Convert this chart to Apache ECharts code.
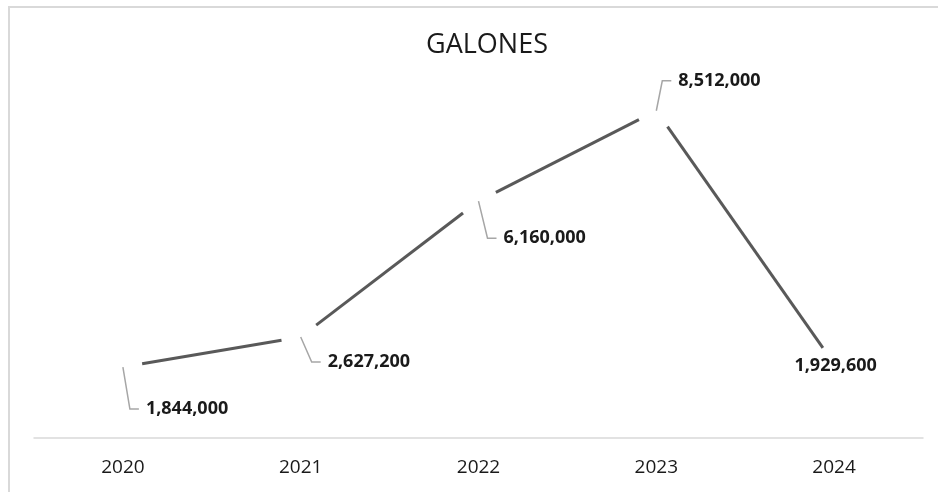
<!DOCTYPE html>
<html>
<head>
<meta charset="utf-8">
<script src="https://cdn.jsdelivr.net/npm/echarts@6/dist/echarts.min.js"></script>
<style>
html,body{margin:0;padding:0;background:#fff;}
#chart{width:938px;height:492px;}
</style>
</head>
<body>
<div id="chart"></div>
<script>
var titleText = 'GALONES';
var categories = ['2020', '2021', '2022', '2023', '2024'];
var values = [1844000, 2627200, 6160000, 8512000, 1929600];

// label layout (pixel offsets relative to each point): [x, y, align, showLeader]
var labelLayouts = [
  [23, 42, 'left', true],
  [27, 25, 'left', true],
  [25, 37, 'left', true],
  [22, -30, 'left', true],
  [1.5, 2.5, 'center', false]
];
var GAP = 19.5;

var chart = echarts.init(document.getElementById('chart'), null, {renderer: 'canvas'});

function fmt(v) { return v.toLocaleString('en-US'); }

var option = {
  animation: false,
  backgroundColor: '#ffffff',
  title: {
    text: titleText,
    left: 482,
    textAlign: 'center',
    top: 27,
    textStyle: {fontFamily: 'Open Sans', fontSize: 27, fontWeight: 'normal', color: '#1a1a1a'}
  },
  graphic: [{
    type: 'rect',
    silent: true,
    shape: {x: 9, y: 7, width: 2000, height: 2000},
    style: {fill: 'none', stroke: '#d9d9d9', lineWidth: 2},
    z: 0
  }],
  grid: {left: 34, right: 15, top: 92, bottom: 54},
  xAxis: {
    type: 'category',
    data: categories,
    boundaryGap: true,
    axisLine: {show: true, lineStyle: {color: '#d9d9d9', width: 1.5}},
    axisTick: {show: false},
    axisLabel: {fontFamily: 'Open Sans', fontSize: 19, color: '#1a1a1a', margin: 20},
    splitLine: {show: false}
  },
  yAxis: {
    type: 'value',
    min: 0,
    max: 9000000,
    show: false,
    splitLine: {show: false}
  },
  series: [{
    type: 'custom',
    data: values.map(function (v, i) { return [i, v]; }),
    encode: {x: 0, y: 1},
    renderItem: function (params, api) {
      var i = params.dataIndex;
      var v = api.value(1);
      var p = api.coord([i, v]);
      var children = [];
      if (i < values.length - 1) {
        var q = api.coord([i + 1, values[i + 1]]);
        var dx = q[0] - p[0], dy = q[1] - p[1];
        var len = Math.sqrt(dx * dx + dy * dy);
        var ux = dx / len, uy = dy / len;
        children.push({
          type: 'line',
          shape: {x1: p[0] + ux * GAP, y1: p[1] + uy * GAP, x2: q[0] - ux * GAP, y2: q[1] - uy * GAP},
          style: {stroke: '#595959', lineWidth: 3, lineCap: 'butt'}
        });
      }
      var L = labelLayouts[i];
      if (L[3]) {
        children.push({
          type: 'polyline',
          shape: {points: [[p[0], p[1]], [p[0] + L[0] - 16, p[1] + L[1]], [p[0] + L[0] - 7, p[1] + L[1]]]},
          style: {stroke: '#a6a6a6', lineWidth: 1.5, fill: 'none'}
        });
      }
      children.push({
        type: 'text',
        x: p[0] + L[0],
        y: p[1] + L[1],
        style: {
          text: fmt(v),
          font: 'bold 18px "Open Sans"',
          fill: '#1a1a1a',
          align: L[2],
          verticalAlign: 'middle'
        }
      });
      return {type: 'group', children: children};
    }
  }]
};
chart.setOption(option);
</script>
</body>
</html>
